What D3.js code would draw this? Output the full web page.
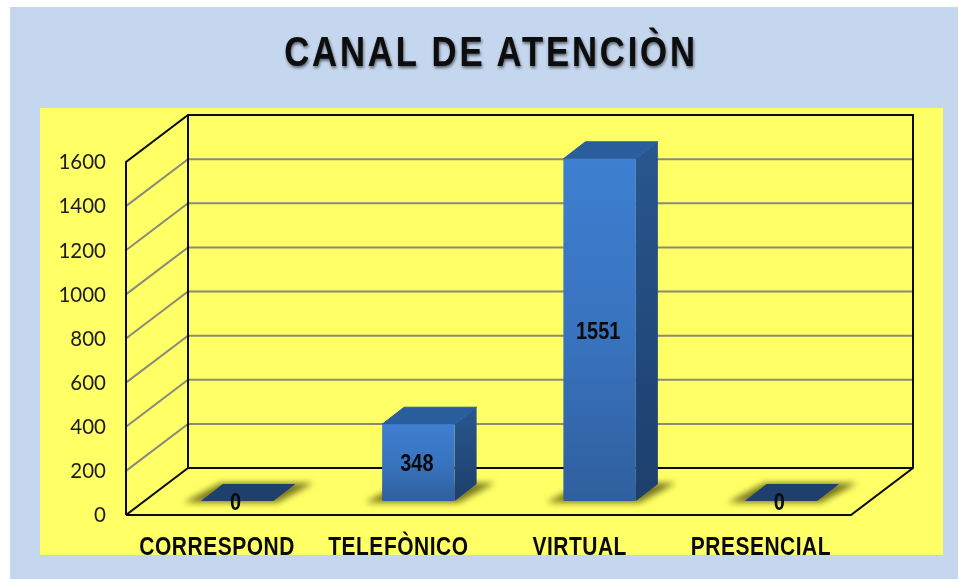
<!DOCTYPE html>
<html>
<head>
<meta charset="utf-8">
<script src="https://cdn.jsdelivr.net/npm/d3@7/dist/d3.min.js"></script>
<style>
html,body{margin:0;padding:0;background:#fff;overflow:hidden}
svg{display:block;filter:blur(0.35px)}
.narrow{font-family:"Liberation Sans",sans-serif;font-weight:700;fill:#0a0a0a}
</style>
</head>
<body>
<svg id="chart" width="958" height="579"></svg>
<script>
const titleText = "CANAL DE ATENCIÒN";
const categories = ["CORRESPOND", "TELEFÒNICO", "VIRTUAL", "PRESENCIAL"];
const values = [0, 348, 1551, 0];
const yTicks = [0, 200, 400, 600, 800, 1000, 1200, 1400, 1600];

const svg = d3.select("#chart");
const defs = svg.append("defs");
const depth = {x: 62, y: -47};
const barDepth = {x: 22, y: -17};
const floorShift = {x: 20.5, y: -14};

const x = d3.scaleBand().domain(categories).range([126, 851]).paddingInner(0.6).paddingOuter(0.3);
const y = d3.scaleLinear().domain([0, 1600]).range([515, 162]);

function grad(id, stops) {
  const g = defs.append("linearGradient").attr("id", id)
    .attr("x1", 0).attr("y1", 0).attr("x2", 0).attr("y2", 1);
  stops.forEach(([o, c]) => g.append("stop").attr("offset", o).attr("stop-color", c));
}
grad("front", [[0, "#3d7fd0"], [0.55, "#3872bd"], [1, "#2f5f9d"]]);
grad("side", [[0, "#28578f"], [1, "#1d3f6c"]]);
grad("top", [[0, "#2a5d9c"], [1, "#2a5f9f"]]);

const blur = defs.append("filter").attr("id", "shadowBlur")
  .attr("x", "-30%").attr("y", "-60%").attr("width", "160%").attr("height", "220%");
blur.append("feGaussianBlur").attr("stdDeviation", 3);

const titleShadow = defs.append("filter").attr("id", "titleShadow")
  .attr("x", "-5%").attr("y", "-20%").attr("width", "110%").attr("height", "150%");
titleShadow.append("feDropShadow").attr("dx", 1).attr("dy", 2).attr("stdDeviation", 1.8)
  .attr("flood-color", "#000").attr("flood-opacity", 0.55);

// panels
svg.append("rect").attr("x", 10).attr("y", 7).attr("width", 948).attr("height", 572).attr("fill", "#c5d7ef");
svg.append("rect").attr("x", 40).attr("y", 108).attr("width", 903).attr("height", 447).attr("fill", "#ffff66");

// title
svg.append("text").attr("class", "narrow")
  .attr("transform", "translate(491,66) scale(0.827,1)")
  .attr("text-anchor", "middle").attr("font-size", 42).attr("letter-spacing", 3.4)
  .attr("filter", "url(#titleShadow)").text(titleText);

// walls: gridlines
const line = d3.line();
const innerTicks = yTicks.filter(t => t > 0 && t < 1600);
svg.append("g").selectAll("path").data(innerTicks).join("path")
  .attr("d", t => line([[126, y(t)], [126 + depth.x, y(t) + depth.y], [851 + depth.x, y(t) + depth.y]]))
  .attr("fill", "none").attr("stroke", "#8a8a7a").attr("stroke-width", 2);

// frame
const yTop = y(1600), yBase = y(0);
const frame = [
  [[126, yBase], [126, yTop], [126 + depth.x, yTop + depth.y], [851 + depth.x, yTop + depth.y], [851 + depth.x, yBase + depth.y], [851, yBase], [126, yBase]],
  [[126 + depth.x, yTop + depth.y], [126 + depth.x, yBase + depth.y], [851 + depth.x, yBase + depth.y]],
  [[126, yBase], [126 + depth.x, yBase + depth.y]]
];
svg.append("g").selectAll("path").data(frame).join("path")
  .attr("d", line).attr("fill", "none").attr("stroke", "#0a0a0a").attr("stroke-width", 2).attr("stroke-linejoin", "miter");

// bars
const bars = svg.append("g").selectAll("g").data(categories.map((c, i) => ({c, v: values[i]}))).join("g");
const bx0 = d => x(d.c) + floorShift.x;
const bx1 = d => bx0(d) + x.bandwidth();
const by0 = () => yBase + floorShift.y;
const byV = d => y(d.v) + floorShift.y;
const poly = pts => line(pts) + "Z";

bars.append("path")
  .attr("d", d => poly([
    [bx0(d) - 17, by0() + 1.5],
    [bx1(d) + 4, by0() + 1.5],
    [bx1(d) + barDepth.x + 18, by0() + barDepth.y - 1],
    [bx0(d) + barDepth.x - 2, by0() + barDepth.y - 1]
  ]))
  .attr("fill", "#77771c").attr("filter", "url(#shadowBlur)");

bars.append("path")
  .attr("d", d => poly([[bx1(d), by0()], [bx1(d) + barDepth.x, by0() + barDepth.y], [bx1(d) + barDepth.x, byV(d) + barDepth.y], [bx1(d), byV(d)]]))
  .attr("fill", "url(#side)");
bars.append("path")
  .attr("d", d => poly([[bx0(d), byV(d)], [bx1(d), byV(d)], [bx1(d) + barDepth.x, byV(d) + barDepth.y], [bx0(d) + barDepth.x, byV(d) + barDepth.y]]))
  .attr("fill", d => d.v === 0 ? "#1f3f6c" : "url(#top)")
  .attr("stroke", d => d.v === 0 ? "none" : "#2a5d9c").attr("stroke-width", 1).attr("stroke-linejoin", "round");
bars.filter(d => d.v > 0).append("rect")
  .attr("x", bx0).attr("y", byV).attr("width", x.bandwidth()).attr("height", d => by0() - byV(d))
  .attr("rx", 1.5).attr("fill", "url(#front)");

// data labels
bars.append("text").attr("class", "narrow")
  .attr("transform", d => `translate(${bx0(d) + x.bandwidth() / 2 - 1.5},${(by0() + byV(d)) / 2}) scale(0.83,1)`)
  .attr("dy", "0.36em").attr("text-anchor", "middle").attr("font-size", 24)
  .text(d => d.v);

// y axis
const yAxis = svg.append("g").attr("transform", "translate(106,0)")
  .call(d3.axisLeft(y).tickValues(yTicks).tickFormat(d3.format("d")).tickSize(0).tickPadding(0));
yAxis.select(".domain").remove();
yAxis.selectAll("text").attr("font-family", "Lato, sans-serif").attr("font-size", 20.5).attr("fill", "#1c1c1c")
  .attr("dy", "0.33em");

// x axis
const bandCentre = d3.scalePoint().domain(categories).range([216.6, 760.4]);
const xAxis = svg.append("g").attr("transform", "translate(0,555)")
  .call(d3.axisBottom(bandCentre).tickSize(0).tickPadding(0));
xAxis.select(".domain").remove();
xAxis.selectAll("text").attr("class", "narrow").attr("font-size", 25).attr("letter-spacing", 0.6)
  .attr("y", 0).attr("dy", 0).attr("font-family", null)
  .attr("transform", "scale(0.84,1)");
</script>
</body>
</html>
